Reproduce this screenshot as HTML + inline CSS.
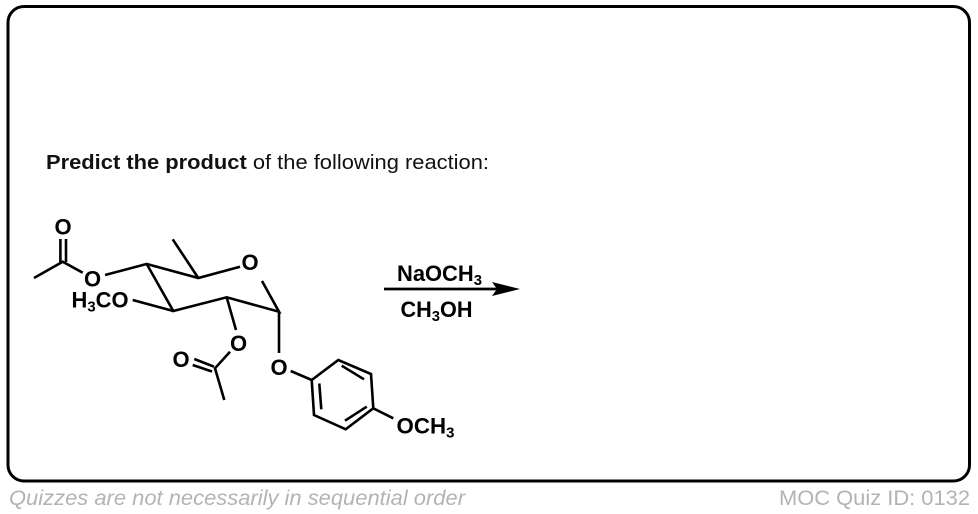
<!DOCTYPE html>
<html>
<head>
<meta charset="utf-8">
<style>
html,body{margin:0;padding:0;background:#fff;width:978px;height:514px;overflow:hidden}
svg{display:block}
text{font-family:"Liberation Sans",Arial,sans-serif}
.a{font-weight:bold;font-size:22px;fill:#000}
.s{font-size:15px}
</style>
</head>
<body>
<svg width="978" height="514" viewBox="0 0 978 514" xmlns="http://www.w3.org/2000/svg">
<rect x="8" y="6.5" width="961.5" height="474.5" rx="16" ry="16" fill="#fff" stroke="#000" stroke-width="3"/>
<text x="46" y="169" font-size="20.5" fill="#111" textLength="443" lengthAdjust="spacingAndGlyphs"><tspan font-weight="bold">Predict the product</tspan> of the following reaction:</text>

<g stroke="#000" stroke-width="2.6" fill="none" stroke-linecap="butt">
<path d="M34 278L62.7 261.7L82.7 272.7"/>
<path d="M60.4 262V239M66 262V239"/>
<path d="M105 275L146.7 264L198.3 278L240 266.7"/>
<path d="M198.3 278L172.7 239.3"/>
<path d="M146.7 264L173.3 311L226.7 297.3L279 311.7L262 281"/>
<path d="M132.7 300L173.3 311"/>
<path d="M226.7 297.3L236 330"/>
<path d="M279 311.7V353"/>
<path d="M230 351.7L215 368.3L224.3 400"/>
<path d="M194.3 359L214 366.7M192.7 365L212 371.5"/>
<path d="M290.7 371L311.7 380L338.3 360L371 374L373.3 408.3L345.7 429.3L314 415L311.7 380"/>
<path d="M319.3 383.5L321.3 409.3M341.7 365.7L364 379.3M345 420.7L366.7 406.7"/>
<path d="M373.3 408.3L393.3 418.3"/>
<path d="M384 289H497" stroke-width="2.8"/>
</g>
<path d="M520 289L492 282L497 289L492 296Z" fill="#000"/>

<text class="a" x="54.5" y="234.5">O</text>
<text class="a" x="84" y="286.5">O</text>
<text class="a" x="71.5" y="307.5" textLength="57" lengthAdjust="spacingAndGlyphs">H<tspan class="s" dy="4">3</tspan><tspan dy="-4">CO</tspan></text>
<text class="a" x="241.5" y="270">O</text>
<text class="a" x="230" y="351">O</text>
<text class="a" x="172.5" y="367">O</text>
<text class="a" x="270.5" y="375">O</text>
<text class="a" x="396.5" y="433.5" textLength="58" lengthAdjust="spacingAndGlyphs">OCH<tspan class="s" dy="4">3</tspan></text>
<text class="a" x="397" y="281" textLength="85" lengthAdjust="spacingAndGlyphs">NaOCH<tspan class="s" dy="4">3</tspan></text>
<text class="a" x="400.5" y="317" textLength="72" lengthAdjust="spacingAndGlyphs">CH<tspan class="s" dy="4">3</tspan><tspan dy="-4">OH</tspan></text>

<text x="9" y="505" font-size="21" font-style="italic" fill="#b2b4b4" textLength="456" lengthAdjust="spacingAndGlyphs">Quizzes are not necessarily in sequential order</text>
<text x="779" y="505" font-size="21" fill="#b2b4b4" textLength="191" lengthAdjust="spacingAndGlyphs">MOC Quiz ID: 0132</text>
</svg>
</body>
</html>
